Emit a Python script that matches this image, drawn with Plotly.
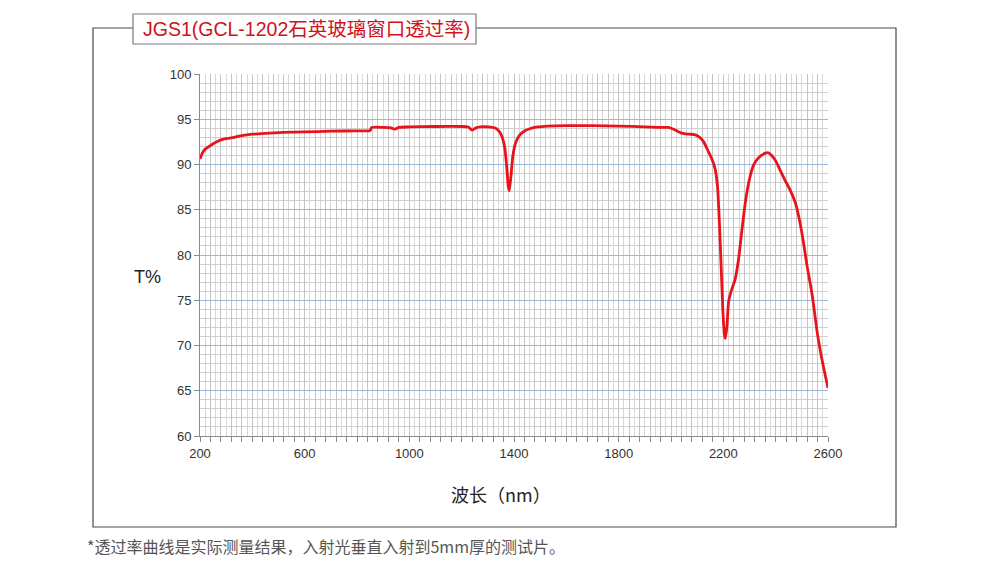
import plotly.graph_objects as go

# ---- data ----
wavelength_nm = [200, 205, 212, 220, 235, 250, 270, 290, 310, 330, 360, 400, 450, 520, 600,
                 700, 800, 850, 856, 900, 930, 945, 960, 1000, 1100, 1200, 1225, 1240, 1255,
                 1270, 1300, 1330, 1345, 1355, 1365, 1372, 1378, 1382, 1388, 1395, 1405, 1420,
                 1440, 1460, 1490, 1530, 1600, 1700, 1800, 1900, 1950, 1990, 2010, 2030, 2050,
                 2070, 2090, 2110, 2125, 2140, 2155, 2168, 2178, 2185, 2192, 2198, 2204, 2208,
                 2214, 2220, 2230, 2245, 2258, 2270, 2285, 2300, 2315, 2330, 2345, 2360, 2372,
                 2385, 2400, 2415, 2435, 2455, 2475, 2490, 2505, 2520, 2540, 2560, 2580, 2600]
transmittance = [90.6, 91.0, 91.4, 91.7, 92.0, 92.3, 92.6, 92.8, 92.9, 93.0, 93.2, 93.35, 93.45,
                 93.55, 93.6, 93.68, 93.72, 93.75, 94.1, 94.1, 94.05, 93.9, 94.1, 94.15, 94.2,
                 94.2, 94.15, 93.8, 94.05, 94.15, 94.15, 94.0, 93.6, 93.0, 91.8, 89.8, 87.6, 87.1,
                 88.6, 90.8, 92.3, 93.2, 93.7, 93.95, 94.15, 94.25, 94.3, 94.3, 94.25, 94.15,
                 94.1, 94.1, 93.9, 93.6, 93.4, 93.35, 93.3, 93.0, 92.5, 91.6, 90.7, 89.6, 87.5,
                 83.5, 78.5, 74.0, 71.2, 70.8, 72.2, 74.8, 76.0, 77.3, 79.5, 82.5, 86.0, 88.4,
                 89.9, 90.6, 91.0, 91.25, 91.3, 91.0, 90.4, 89.5, 88.3, 87.2, 85.8, 84.0, 81.6,
                 78.8, 75.5, 71.2, 68.0, 65.3]

x_tick_vals = list(range(200, 2601, 40))
x_label_vals = [200, 600, 1000, 1400, 1800, 2200, 2600]
x_tick_text = [str(v) if v in x_label_vals else "" for v in x_tick_vals]
y_tick_vals = [60, 65, 70, 75, 80, 85, 90, 95, 100]

title_text = "JGS1(GCL-1202石英玻璃窗口透过率)"
x_title = "波长（nm）"
y_title = "T%"
footnote = "*透过率曲线是实际测量结果，入射光垂直入射到5mm厚的测试片。"

# ---- layout geometry (pixels, in window coordinates) ----
OFF = 8  # page body margin
W, H = 981 - OFF, 588 - OFF
L, R, T, B = 200, 828, 74, 436
pw, ph = R - L, B - T


def px(x):
    return (x - L) / pw


def py(y):
    return (B - y) / ph


FONT = "Liberation Sans, Arial, Noto Sans CJK SC, sans-serif"
CJK = "Noto Sans CJK SC, sans-serif"

fig = go.Figure()
fig.add_trace(go.Scatter(
    x=wavelength_nm, y=transmittance, mode="lines",
    line=dict(color="#e8141c", width=2.8, shape="spline", smoothing=0.5),
    hoverinfo="x+y", showlegend=False,
))

fig.update_layout(
    width=W, height=H,
    margin=dict(l=L - OFF, r=W - (R - OFF), t=T - OFF, b=H - (B - OFF), pad=0),
    paper_bgcolor="white", plot_bgcolor="white",
    xaxis=dict(
        range=[200, 2600], tickvals=x_tick_vals, ticktext=x_tick_text,
        ticks="outside", ticklen=5, tickcolor="#8a8a8a", tickwidth=1,
        showgrid=True, gridcolor="#c4c4c4", gridwidth=1,
        minor=dict(dtick=20, tick0=200, showgrid=True, gridcolor="#d6d6d6", gridwidth=1, ticks=""),
        showline=True, linecolor="#8a8a8a", linewidth=1,
        tickfont=dict(family=FONT, size=13, color="#333333"),
        zeroline=False, fixedrange=True,
    ),
    yaxis=dict(
        range=[60, 100], tickvals=y_tick_vals,
        ticks="outside", ticklen=5, tickcolor="#8a8a8a", tickwidth=1,
        showgrid=True, gridcolor="#9cb8d8", gridwidth=1,
        minor=dict(dtick=1, tick0=60, showgrid=True, gridcolor="#cfcfcf", gridwidth=1, ticks=""),
        showline=True, linecolor="#8a8a8a", linewidth=1,
        tickfont=dict(family=FONT, size=13, color="#333333"),
        zeroline=False, fixedrange=True,
    ),
    font=dict(family=FONT),
)

# outer frame
fig.add_shape(type="rect", xref="paper", yref="paper", layer="above",
              x0=px(93), x1=px(896), y0=py(527), y1=py(28),
              line=dict(color="#4a4a4a", width=1.2), fillcolor="rgba(0,0,0,0)")
# title box
fig.add_shape(type="rect", xref="paper", yref="paper", layer="above",
              x0=px(133), x1=px(476), y0=py(44), y1=py(14),
              line=dict(color="#7a7a7a", width=1.2), fillcolor="white")
fig.add_annotation(xref="paper", yref="paper", x=px(306), y=py(29), text=title_text,
                   showarrow=False, xanchor="center", yanchor="middle",
                   font=dict(family=FONT, size=19.5, color="#d0121b"))
# axis titles
fig.add_annotation(xref="paper", yref="paper", x=px(147), y=py(277), text=y_title,
                   showarrow=False, xanchor="center", yanchor="middle",
                   font=dict(family=FONT, size=18, color="#222222"))
fig.add_annotation(xref="paper", yref="paper", x=px(501), y=py(494), text=x_title,
                   showarrow=False, xanchor="center", yanchor="middle",
                   font=dict(family=CJK, size=18, color="#222222"))
# footnote
fig.add_annotation(xref="paper", yref="paper", x=px(85), y=py(546), text=footnote,
                   showarrow=False, xanchor="left", yanchor="middle",
                   font=dict(family=CJK, size=16, color="#555555"))

fig.write_html("out.html")
